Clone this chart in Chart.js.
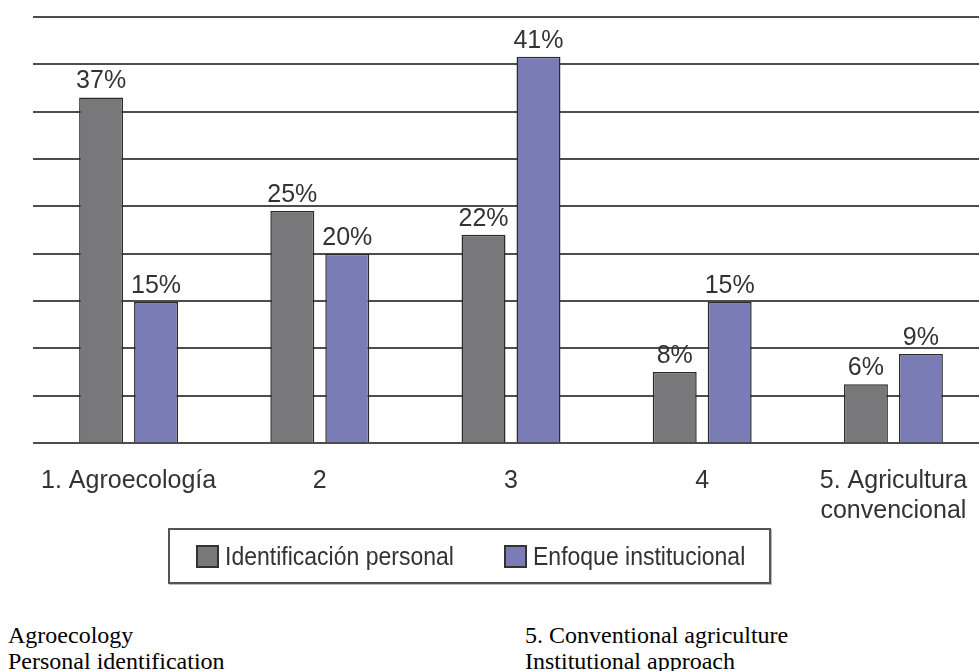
<!DOCTYPE html>
<html>
<head>
<meta charset="utf-8">
<script src="https://cdn.jsdelivr.net/npm/chart.js@4"></script>
<style>
  body { margin: 0; background: #fff; overflow: hidden; width: 979px; height: 671px; position: relative; }
  #wrap { position: absolute; left: 0; top: 0; width: 1000px; height: 530px; }
  #legend {
    position: absolute; left: 168px; top: 528px; width: 599px; height: 52px;
    border: 2px solid #555; box-shadow: 1px 1px 0 #bbb;
    font-family: "Liberation Sans", Arial, sans-serif; font-size: 23px; color: #333;
  }
  .item { position: absolute; top: 15px; height: 23px; display: flex; align-items: center; }
  .sq { width: 19px; height: 19px; border: 2px solid #333; margin-right: 6px; }
  .txt { display: inline-block; transform: scaleY(1.15); white-space: nowrap; }
  .note {
    position: absolute; top: 622px; font-family: "Liberation Serif", "Times New Roman", serif;
    font-size: 24px; line-height: 26px; color: #000; white-space: nowrap;
  }
</style>
</head>
<body>
<div id="wrap"><canvas id="myChart" width="1000" height="530"></canvas></div>
<div id="legend"></div>
<div class="note" style="left:8px">Agroecology<br>Personal identification</div>
<div class="note" style="left:525px">5. Conventional agriculture<br>Institutional approach</div>

<script>
// Data
const categories = ["1. Agroecología", "2", "3", "4", ["5. Agricultura", "convencional"]];
const seriesNames = ["Identificación personal", "Enfoque institucional"];
const personalValues = [36.5, 24.5, 22, 7.5, 6.2];
const institutionalValues = [14.9, 20, 40.8, 14.9, 9.4];
const yTicks = [0, 5, 10, 15, 20, 25, 30, 35, 40, 45];

const colors = ["#78787a", "#7a7cb6"];
const ctx = document.getElementById("myChart");

// Percent labels above each bar
const barLabels = {
  id: "barLabels",
  afterDatasetsDraw(chart) {
    const c = chart.ctx;
    c.save();
    c.font = "25px 'Liberation Sans', Arial, sans-serif";
    c.fillStyle = "#333";
    c.textAlign = "center";
    c.textBaseline = "alphabetic";
    chart.data.datasets.forEach((ds, i) => {
      chart.getDatasetMeta(i).data.forEach((bar, j) => {
        c.fillText(Math.round(ds.data[j]) + "%", bar.x, bar.y - 9);
      });
    });
    c.restore();
  }
};

new Chart(ctx, {
  type: "bar",
  data: {
    labels: categories,
    datasets: [
      { label: seriesNames[0], data: personalValues, backgroundColor: colors[0] },
      { label: seriesNames[1], data: institutionalValues, backgroundColor: colors[1] }
    ]
  },
  options: {
    responsive: false,
    animation: false,
    layout: { padding: { left: 33, right: 11, top: 17, bottom: 0 } },
    datasets: {
      bar: {
        borderColor: "#2b2b2b",
        borderWidth: 1.5,
        barPercentage: 0.8,
        categoryPercentage: 0.575
      }
    },
    plugins: {
      legend: { display: false },
      tooltip: { enabled: false }
    },
    scales: {
      x: {
        grid: { display: false },
        border: { display: false },
        ticks: {
          color: "#333",
          padding: 15,
          maxRotation: 0,
          autoSkip: false,
          font: { family: "'Liberation Sans', Arial, sans-serif", size: 25, lineHeight: 1.2 }
        },
        afterFit: s => { s.height = 87; }
      },
      y: {
        min: 0,
        max: 45,
        afterBuildTicks: s => { s.ticks = yTicks.map(v => ({ value: v })); },
        grid: { color: "#4d4d4d", lineWidth: 2, drawTicks: false },
        border: { display: false },
        ticks: { display: false },
        afterFit: s => { s.width = 0; }
      }
    }
  },
  plugins: [barLabels]
});

// Boxed legend under the chart
const legend = document.getElementById("legend");
const itemLeft = [26, 334];
seriesNames.forEach((name, i) => {
  const item = document.createElement("div");
  item.className = "item";
  item.style.left = itemLeft[i] + "px";
  item.innerHTML = '<span class="sq" style="background:' + colors[i] + '"></span><span class="txt">' + name + "</span>";
  legend.appendChild(item);
});
</script>
</body>
</html>
